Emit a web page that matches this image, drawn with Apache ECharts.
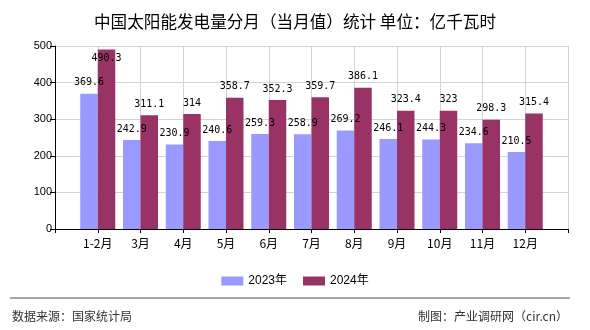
<!DOCTYPE html>
<html>
<head>
<meta charset="utf-8">
<script src="https://cdn.jsdelivr.net/npm/echarts@6/dist/echarts.min.js"></script>
<style>html,body{margin:0;padding:0;background:#fff;}#c{width:590px;height:330px;}</style>
</head>
<body>
<div id="c"></div>
<script>
var categories = ['1-2月','3月','4月','5月','6月','7月','8月','9月','10月','11月','12月'];
var series2023 = [369.6, 242.9, 230.9, 240.6, 259.3, 258.9, 269.2, 246.1, 244.3, 234.6, 210.5];
var series2024 = [490.3, 311.1, 314, 358.7, 352.3, 359.7, 386.1, 323.4, 323, 298.3, 315.4];
var yTicks = [0, 100, 200, 300, 400, 500];

var yMax = yTicks[yTicks.length - 1];
var axisCats = [''].concat(categories).concat(['']);
function pad(arr) {
  return ['-'].concat(arr.map(function (v) {
    if (v > yMax * 0.94) {
      return { value: v, label: { position: 'insideTop', distance: 4 } };
    }
    return v;
  })).concat(['-']);
}
var labelStyle = {
  show: true, position: 'top', distance: 6,
  fontFamily: 'DejaVu Sans Mono, monospace', fontSize: 10, color: '#000'
};
var chart = echarts.init(document.getElementById('c'), null, { renderer: 'canvas' });
chart.setOption({
  animation: false,
  backgroundColor: '#fff',
  title: {
    text: '中国太阳能发电量分月（当月值）统计 单位：亿千瓦时',
    left: 'center', top: 8,
    textStyle: { fontFamily: 'Noto Sans CJK SC', fontSize: 16.6, fontWeight: 'normal', color: '#000' }
  },
  legend: {
    data: ['2023年', '2024年'],
    left: 'center', top: 270,
    itemWidth: 22, itemHeight: 9, itemGap: 16, icon: 'rect',
    textStyle: { fontFamily: 'Liberation Sans, Noto Sans CJK SC', fontSize: 12, color: '#000' }
  },
  grid: { left: 55, right: 22, top: 46, bottom: 101, containLabel: false },
  xAxis: {
    type: 'category', data: axisCats, boundaryGap: false,
    axisLine: { lineStyle: { color: '#000', width: 1 } },
    axisTick: { show: true, interval: 0, length: 4, lineStyle: { color: '#000' } },
    axisLabel: { interval: 0, margin: 8, fontFamily: 'Noto Sans CJK SC', fontSize: 12, color: '#000' },
    splitLine: { show: true, interval: 0, lineStyle: { color: '#d3d3d3', width: 1 } }
  },
  yAxis: {
    type: 'value', min: yTicks[0], max: yMax, interval: 100,
    axisLine: { show: true, lineStyle: { color: '#000', width: 1 } },
    axisTick: { show: true, length: 5, lineStyle: { color: '#000' } },
    axisLabel: { margin: 3, fontFamily: 'Liberation Sans', fontSize: 11, color: '#000' },
    splitLine: { show: true, lineStyle: { color: '#d3d3d3', width: 1 } }
  },
  series: [
    { name: '2023年', type: 'bar', data: pad(series2023), barWidth: 17.5, barGap: '0%',
      itemStyle: { color: '#9999ff' }, label: labelStyle },
    { name: '2024年', type: 'bar', data: pad(series2024), barWidth: 17.5, barGap: '0%',
      itemStyle: { color: '#993366' }, label: labelStyle }
  ],
  graphic: [
    { type: 'line', shape: { x1: 10, y1: 298, x2: 570, y2: 298 }, style: { stroke: '#888', lineWidth: 1.5 } },
    { type: 'text', left: 12, top: 310, style: { text: '数据来源：国家统计局', font: '12px "Noto Sans CJK SC"', fill: '#333' } },
    { type: 'text', right: 22, top: 310, style: { text: '制图：产业调研网（cir.cn）', font: '12px "Noto Sans CJK SC"', fill: '#333' } }
  ]
});
</script>
</body>
</html>
